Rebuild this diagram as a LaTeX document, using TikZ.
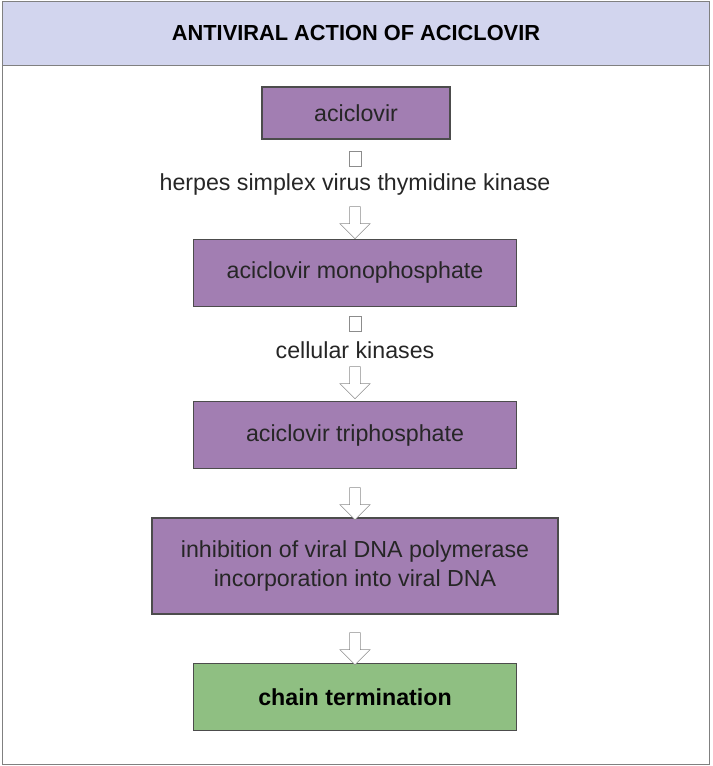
\documentclass[tikz,border=0pt]{standalone}
\usepackage{fontspec}
\setmainfont{Liberation Sans}
\usetikzlibrary{positioning, shapes.arrows}
\definecolor{headband}{HTML}{D2D5EE}
\definecolor{drugpurple}{HTML}{A27EB2}
\definecolor{endgreen}{HTML}{8FBF82}

\begin{document}
\begin{tikzpicture}[
    x=0.025cm, y=-0.025cm,
    step box/.style={rectangle, draw=black!70, fill=drugpurple, thick, inner sep=0pt, font=\fontsize{16.5}{21}\selectfont, align=center, text=black!85},
    shaft/.style={rectangle, draw=black!45, fill=white, minimum width=0.3cm, minimum height=0.38cm, inner sep=0pt},
    flow/.style={single arrow, draw=black!45, fill=white, shape border rotate=270, minimum height=0.8cm, minimum width=0.75cm, single arrow head extend=0.12cm, single arrow tip angle=90, inner sep=0.06cm},
    enzyme/.style={font=\fontsize{16.5}{21}\selectfont, text=black!85}
]

% Frame and title
\useasboundingbox (0,0) rectangle (712,766);
\draw[fill=headband, draw=black!50] (2,1) rectangle (709,65);
\draw[draw=black!50] (2,65) rectangle (709,764);
\node[font=\fontsize{15.5}{18}\bfseries] (title) at (356,33) {ANTIVIRAL ACTION OF ACICLOVIR};

% Steps
\node[step box, minimum width=188*0.025cm, minimum height=52*0.025cm] (acv) at (356,113) {aciclovir};
\node[step box, minimum width=323*0.025cm, minimum height=67*0.025cm] (mono) at (355,273) {aciclovir monophosphate};
\node[step box, minimum width=323*0.025cm, minimum height=67*0.025cm] (tri) at (355,435) {aciclovir triphosphate};
\node[step box, minimum width=406*0.025cm, minimum height=96*0.025cm] (inhib) at (355,566) {inhibition of viral DNA polymerase\\incorporation into viral DNA};
\node[step box, fill=endgreen, text=black, minimum width=323*0.025cm, minimum height=67*0.025cm, font=\fontsize{16.5}{21}\bfseries] (chain) at (355,697) {chain termination};

% Enzymes
\node[shaft] (shaftA) at (355,159) {};
\node[enzyme] (hsvtk) at (355,185) {herpes simplex virus thymidine kinase};
\node[flow] (flowA) at (355,220) {};
\node[shaft] (shaftB) at (355,324) {};
\node[enzyme] (cellk) at (355,350) {cellular kinases};
\node[flow] (flowB) at (355,380) {};

% Plain arrows
\node[flow] (flowC) at (355,501) {};
\node[flow] (flowD) at (355,646) {};

\end{tikzpicture}
\end{document}
